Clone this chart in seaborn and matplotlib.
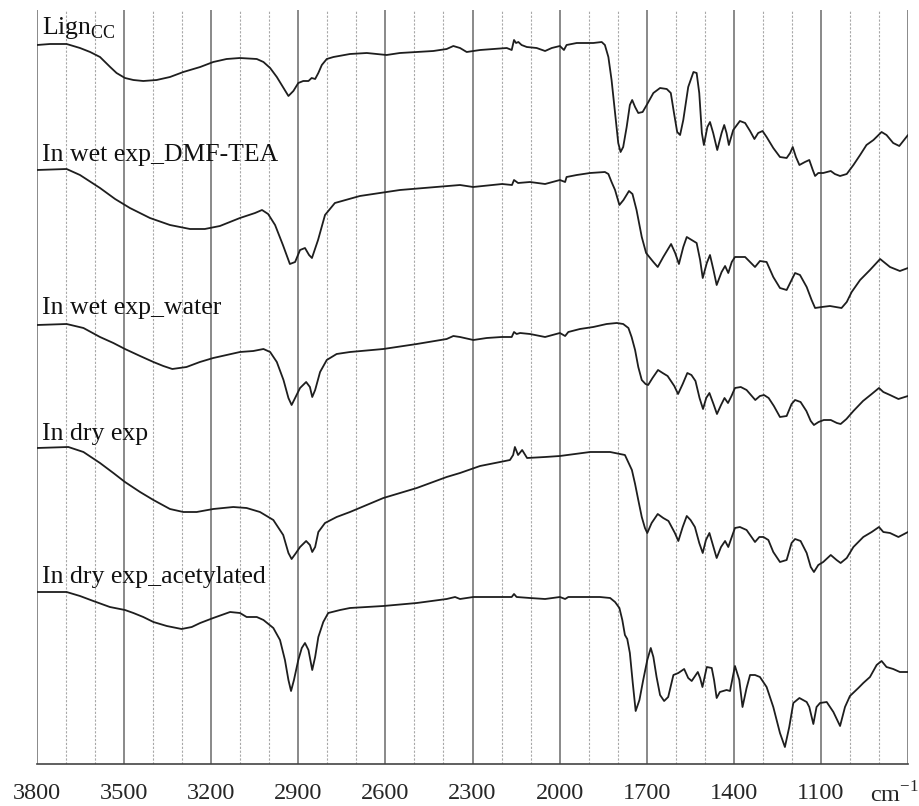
import numpy as np
import pandas as pd
import matplotlib
matplotlib.use("Agg")
import matplotlib.pyplot as plt
import seaborn as sns

# FTIR spectra, stacked (wavenumber in cm-1, signal in arbitrary units)
names = ["Lign$_{\\mathrm{CC}}$", "In wet exp_DMF-TEA", "In wet exp_water",
         "In dry exp", "In dry exp_acetylated"]

wn_lign = [3800, 3755, 3698, 3652, 3617, 3583, 3548, 3526, 3497, 3468, 3434, 3388,
           3342, 3296, 3238, 3193, 3147, 3101, 3043, 3020, 2997, 2974, 2951, 2934,
           2917, 2900, 2883, 2865, 2854, 2842, 2831, 2819, 2802, 2779, 2722, 2664,
           2596, 2550, 2492, 2435, 2389, 2366, 2343, 2320, 2274, 2228, 2182, 2165,
           2157, 2150, 2142, 2131, 2113, 2079, 2050, 2027, 1999, 1985, 1976, 1941,
           1884, 1855, 1844, 1832, 1821, 1809, 1798, 1790, 1781, 1769, 1758, 1750,
           1740, 1729, 1714, 1700, 1677, 1654, 1631, 1617, 1606, 1595, 1585, 1574,
           1557, 1539, 1528, 1519, 1510, 1503, 1491, 1482, 1471, 1457, 1442, 1433,
           1425, 1417, 1402, 1379, 1361, 1344, 1329, 1316, 1301, 1287, 1264, 1241,
           1218, 1206, 1197, 1186, 1174, 1155, 1140, 1128, 1120, 1109, 1092, 1066,
           1052, 1034, 1011, 988, 965, 943, 919, 891, 874, 851, 830, 800]
sig_lign = [719, 720, 720, 716, 712, 707, 697, 691, 686, 684, 683, 684,
            687, 692, 697, 702, 705, 706, 705, 702, 696, 687, 676, 668,
            673, 681, 683, 683, 686, 685, 691, 699, 705, 707, 710, 711,
            709, 711, 712, 713, 715, 718, 716, 712, 714, 715, 716, 714,
            724, 721, 722, 719, 717, 716, 713, 716, 718, 714, 719, 721,
            721, 722, 719, 707, 684, 651, 621, 612, 617, 637, 659, 664,
            657, 651, 652, 659, 671, 676, 675, 671, 651, 632, 629, 644,
            677, 692, 691, 671, 631, 619, 637, 642, 631, 614, 631, 639,
            631, 619, 634, 643, 641, 633, 625, 631, 633, 627, 616, 607,
            606, 611, 617, 607, 599, 602, 604, 594, 588, 591, 591, 593,
            590, 588, 590, 599, 609, 619, 624, 632, 629, 621, 618, 629]

wn_dmf = [3800, 3698, 3652, 3583, 3531, 3480, 3411, 3342, 3273, 3222, 3170, 3101,
          3049, 3025, 3004, 2980, 2953, 2929, 2911, 2894, 2877, 2863, 2853, 2832,
          2808, 2774, 2688, 2550, 2343, 2298, 2198, 2164, 2157, 2143, 2102, 2050,
          1999, 1981, 1976, 1941, 1895, 1844, 1832, 1821, 1809, 1794, 1780, 1761,
          1749, 1735, 1717, 1702, 1691, 1677, 1662, 1643, 1616, 1602, 1589, 1574,
          1562, 1545, 1528, 1516, 1507, 1493, 1482, 1470, 1459, 1442, 1430, 1419,
          1407, 1396, 1361, 1344, 1327, 1310, 1287, 1264, 1241, 1218, 1201, 1189,
          1172, 1149, 1132, 1120, 1097, 1069, 1029, 1011, 994, 965, 931, 896,
          862, 828, 800]
sig_dmf = [594, 595, 589, 576, 565, 556, 546, 539, 535, 535, 538, 546,
           551, 554, 550, 539, 519, 500, 502, 514, 516, 509, 506, 524,
           549, 561, 568, 574, 579, 577, 580, 579, 584, 581, 582, 580,
           584, 582, 587, 589, 591, 592, 590, 582, 574, 559, 564, 573,
           570, 554, 527, 511, 507, 502, 497, 507, 520, 511, 500, 517,
           527, 524, 521, 504, 486, 501, 509, 494, 479, 492, 498, 491,
           502, 507, 507, 502, 497, 503, 502, 487, 476, 474, 484, 491,
           489, 477, 464, 456, 457, 458, 456, 462, 472, 484, 494, 505,
           497, 493, 496]

wn_water = [3800, 3698, 3640, 3583, 3537, 3497, 3445, 3399, 3365, 3334, 3285, 3239,
            3193, 3147, 3101, 3055, 3020, 2997, 2974, 2951, 2934, 2923, 2911, 2894,
            2873, 2860, 2852, 2842, 2825, 2802, 2768, 2722, 2607, 2492, 2389, 2366,
            2343, 2297, 2251, 2200, 2165, 2157, 2148, 2136, 2102, 2050, 1999, 1981,
            1970, 1930, 1884, 1838, 1803, 1781, 1763, 1752, 1740, 1729, 1717, 1704,
            1695, 1680, 1661, 1645, 1628, 1605, 1592, 1576, 1560, 1546, 1532, 1518,
            1506, 1495, 1484, 1470, 1458, 1444, 1432, 1420, 1408, 1396, 1376, 1356,
            1338, 1326, 1310, 1296, 1280, 1262, 1241, 1218, 1201, 1189, 1170, 1150,
            1135, 1124, 1108, 1090, 1066, 1045, 1032, 1012, 988, 955, 925, 900,
            885, 862, 833, 800]
sig_water = [439, 440, 436, 427, 421, 415, 408, 402, 398, 395, 397, 402,
             406, 409, 412, 413, 415, 412, 402, 384, 366, 359, 366, 376,
             382, 377, 367, 374, 392, 404, 410, 412, 415, 420, 425, 428,
             427, 424, 426, 427, 427, 432, 430, 431, 430, 427, 431, 428,
             432, 435, 437, 440, 441, 440, 436, 427, 414, 397, 384, 380,
             379, 386, 394, 391, 388, 378, 370, 380, 391, 389, 383, 366,
             355, 366, 371, 360, 350, 359, 366, 361, 368, 376, 377, 374,
             368, 364, 368, 369, 366, 358, 347, 348, 360, 364, 362, 353,
             343, 339, 342, 344, 344, 341, 340, 345, 353, 363, 370, 376,
             372, 369, 365, 368]

wn_dry = [3800, 3692, 3640, 3583, 3537, 3497, 3445, 3399, 3342, 3296, 3250, 3193,
          3124, 3078, 3032, 2986, 2952, 2934, 2923, 2908, 2894, 2873, 2860, 2852,
          2842, 2831, 2808, 2768, 2722, 2607, 2492, 2389, 2343, 2274, 2205, 2171,
          2160, 2154, 2143, 2129, 2112, 2050, 1999, 1895, 1826, 1775, 1751, 1740,
          1729, 1717, 1706, 1698, 1683, 1662, 1643, 1625, 1603, 1591, 1576, 1562,
          1549, 1534, 1519, 1507, 1496, 1484, 1470, 1459, 1444, 1430, 1419, 1407,
          1396, 1379, 1356, 1339, 1327, 1312, 1298, 1281, 1264, 1241, 1218, 1201,
          1189, 1170, 1149, 1135, 1124, 1109, 1092, 1066, 1046, 1032, 1011, 988,
          954, 925, 900, 885, 862, 833, 800]
sig_dry = [316, 317, 312, 301, 291, 282, 272, 264, 255, 252, 252, 255,
           257, 256, 252, 244, 229, 211, 205, 211, 217, 223, 219, 212,
           217, 232, 241, 247, 252, 266, 276, 287, 291, 298, 302, 304,
           309, 317, 309, 314, 306, 307, 308, 312, 312, 309, 294, 280,
           264, 247, 236, 231, 241, 250, 246, 243, 231, 223, 237, 248,
           244, 237, 221, 211, 224, 231, 217, 206, 217, 223, 217, 227,
           236, 237, 234, 227, 222, 227, 227, 224, 212, 202, 204, 221,
           225, 223, 211, 197, 192, 199, 202, 209, 204, 201, 206, 217,
           227, 232, 237, 232, 231, 227, 232]

wn_acet = [3800, 3698, 3652, 3606, 3549, 3497, 3468, 3434, 3399, 3353, 3302, 3267,
           3238, 3193, 3135, 3101, 3078, 3043, 3020, 2986, 2963, 2946, 2934, 2925,
           2915, 2900, 2888, 2877, 2865, 2852, 2842, 2831, 2814, 2797, 2756, 2722,
           2607, 2492, 2389, 2360, 2343, 2297, 2205, 2165, 2157, 2148, 2102, 2050,
           1999, 1981, 1970, 1861, 1826, 1809, 1794, 1784, 1775, 1767, 1758, 1748,
           1738, 1725, 1712, 1698, 1686, 1677, 1666, 1654, 1640, 1626, 1608, 1591,
           1571, 1557, 1545, 1524, 1516, 1508, 1493, 1476, 1468, 1459, 1448, 1425,
           1413, 1396, 1381, 1370, 1356, 1344, 1327, 1310, 1287, 1264, 1241, 1224,
           1209, 1195, 1174, 1149, 1140, 1126, 1115, 1103, 1080, 1057, 1034, 1017,
           1000, 971, 954, 931, 908, 891, 874, 851, 828, 800]
sig_acet = [172, 172, 168, 163, 157, 154, 151, 147, 142, 138, 135, 137,
            141, 146, 152, 151, 147, 147, 144, 136, 124, 104, 84, 73,
            84, 104, 116, 121, 114, 94, 107, 127, 142, 151, 154, 156,
            158, 161, 165, 167, 165, 167, 167, 167, 170, 167, 166, 165,
            167, 165, 167, 167, 166, 162, 156, 144, 129, 125, 111, 81,
            53, 64, 84, 104, 116, 107, 87, 69, 63, 67, 89, 91,
            95, 86, 83, 92, 86, 77, 97, 96, 84, 66, 72, 74,
            73, 98, 84, 57, 76, 89, 89, 87, 77, 57, 31, 17,
            37, 61, 66, 62, 57, 40, 57, 61, 62, 52, 38, 57,
            68, 76, 81, 87, 99, 103, 97, 95, 92, 92]

wn_series = [wn_lign, wn_dmf, wn_water, wn_dry, wn_acet]
sig_series = [sig_lign, sig_dmf, sig_water, sig_dry, sig_acet]

df = pd.concat(
    [pd.DataFrame({"wavenumber": w, "signal": s, "sample": n})
     for n, w, s in zip(names, wn_series, sig_series)],
    ignore_index=True,
)

major_ticks = [3800, 3500, 3200, 2900, 2600, 2300, 2000, 1700, 1400, 1100, 800]
minor_ticks = [w for w in range(900, 3800, 100) if w not in major_ticks]
tick_labels = ["3800", "3500", "3200", "2900", "2600", "2300", "2000",
               "1700", "1400", "1100", ""]
label_baselines = [730, 603, 450, 324, 181]

sns.set_style("white")
plt.rcParams["font.family"] = ["Liberation Serif", "DejaVu Serif"]
plt.rcParams["mathtext.fontset"] = "custom"
plt.rcParams["mathtext.rm"] = "Liberation Serif"

fig = plt.figure(figsize=(9.19, 8.06), dpi=100)
ax = fig.add_axes([37 / 919, 42 / 806, 871 / 919, 754 / 806])

sns.lineplot(data=df, x="wavenumber", y="signal", units="sample",
             estimator=None, color="#1e1e1e", linewidth=1.3, ax=ax, legend=False)

ax.set_xlim(3800, 800)
ax.set_ylim(0, 754)
ax.set_xticks(major_ticks)
ax.set_xticklabels(tick_labels, fontsize=17.5)
ax.set_xticks(minor_ticks, minor=True)
ax.set_yticks([])
ax.set_xlabel("")
ax.set_ylabel("")

ax.grid(which="major", axis="x", color="#6a6a6a", linewidth=1.1, linestyle="-")
ax.grid(which="minor", axis="x", color="#a8a8a8", linewidth=0.8,
        linestyle=(0, (2, 1.5)))
ax.set_axisbelow(True)
ax.tick_params(axis="x", which="major", direction="out", length=6, width=1,
               color="#444444", pad=8)
ax.tick_params(axis="x", which="minor", length=0)

for side in ["top", "left", "right"]:
    ax.spines[side].set_visible(False)
ax.spines["bottom"].set_color("#444444")
ax.spines["bottom"].set_linewidth(1.2)

for name, yb in zip(names, label_baselines):
    ax.text(3783, yb, name, fontsize=18.5, ha="left", va="baseline", color="#111111")

ax.text(0.985, -0.041, "cm$^{-1}$", transform=ax.transAxes, fontsize=17.5,
        ha="center", va="center")

plt.savefig("out.png", dpi=100)
plt.close()
